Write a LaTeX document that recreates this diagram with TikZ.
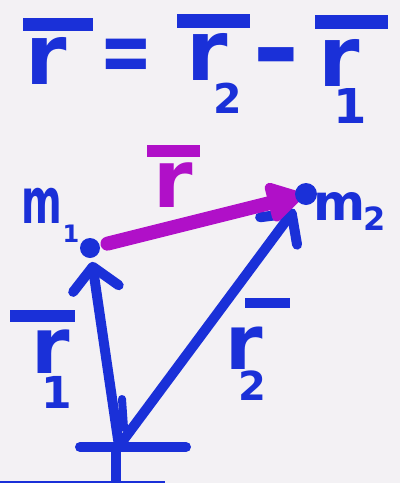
\documentclass[tikz,border=0pt]{standalone}
\usepackage{fontspec}
\setmainfont{DejaVu Sans}
\usetikzlibrary{arrows.meta}
\definecolor{ink}{HTML}{1A30D8}
\definecolor{mag}{HTML}{B010C8}
\definecolor{paper}{HTML}{F3F1F4}
% bar of given width/thickness, gap, then content
\newcommand\ovl[4]{\vbox{\hrule height #2 width #1\kern#3\hbox{#4}}}
\newcommand\fs[1]{\fontsize{#1}{#1}\selectfont}
\begin{document}
\begin{tikzpicture}[x=1pt,y=-1pt,
  eq/.style={inner sep=0pt,outer sep=0pt,anchor=north west,text=ink,font=\bfseries},
  sym/.style={inner sep=0pt,outer sep=0pt,text=ink,font=\bfseries},
  dot/.style={circle,fill=ink,inner sep=0pt,minimum size=#1},
  inkline/.style={draw=ink,line width=10pt,line cap=round,line join=round},
  vecarrow/.style={inkline,-{Straight Barb[length=22pt,width=46pt,round]}},
  relarrow/.style={draw=mag,line width=14pt,line cap=round,-{Triangle[length=40pt,width=44pt,round]}}]
\fill[paper] (0,0) rectangle (400,483);
\useasboundingbox (0,0) rectangle (400,483);

% equation
\node[eq] (t1) at (23,18) {\ovl{70pt}{13pt}{6pt}{\fs{84}\kern2pt r}};
\node[sym] (eqs) at (126,61) {\scalebox{0.64}[0.9]{\fs{100}=}};
\node[eq] (t2) at (177,14) {\ovl{73pt}{14pt}{5pt}{\fs{84}\kern9pt r\kern-14pt\raisebox{-33pt}{\fs{41}2}}};
\node[sym] (minus) at (276,66) {\scalebox{1.15}[1]{\fs{100}-}};
\node[eq] (t3) at (315,15) {\ovl{73pt}{14pt}{10pt}{\fs{84}\kern3pt r\kern-26pt\raisebox{-37pt}{\fs{48}1}}};

% points
\coordinate (P1) at (90,248);
\coordinate (P2) at (306,194);
\coordinate (O) at (119,446);

% arrows
\draw[vecarrow,shorten >=14pt] (O) -- (P1);
\draw[vecarrow,shorten >=19pt] (O) -- (P2);
\draw[relarrow,shorten <=18pt,shorten >=4pt] (P1) -- (P2);

% origin mark
\coordinate (oL) at (80,447);
\coordinate (oR) at (186,447);
\coordinate (oT) at (116,447);
\coordinate (oB) at (116,490);
\coordinate (kA) at (122,399);
\coordinate (kB) at (124,428);
\draw[inkline] (oL) -- (oR);
\draw[inkline] (oT) -- (oB);
\draw[inkline,line width=8pt] (kA) -- (kB);

% masses
\node[dot=20pt] (m1) at (P1) {};
\node[dot=22pt] (m2) at (P2) {};
\node[sym,anchor=base west] (l1) at (22,223) {\scalebox{0.62}[1]{\fs{63}m}\raisebox{-19pt}{\fs{24}1}};
\node[sym,anchor=base west] (l2) at (313,220) {\fs{50}m\kern-2pt\raisebox{-10pt}{\fs{32}2}};

% labels
\node[eq,text=mag] (rl) at (147,145) {\ovl{53pt}{12pt}{6pt}{\fs{80}\kern6pt r}};
\node[eq] (r1l) at (10,310) {\ovl{65pt}{12pt}{8pt}{\fs{78}\kern21pt r\kern-28pt\raisebox{-35pt}{\fs{44}1}}};
\node[eq] (r2l) at (245,298) {\ovl{45pt}{10pt}{19pt}{\fs{76}\kern-20pt r\kern-24pt\raisebox{-31pt}{\fs{40}2}}};

% scan edge line
\coordinate (sA) at (0,482);
\coordinate (sB) at (165,482);
\draw[ink,line width=2pt] (sA) -- (sB);
\end{tikzpicture}
\end{document}
